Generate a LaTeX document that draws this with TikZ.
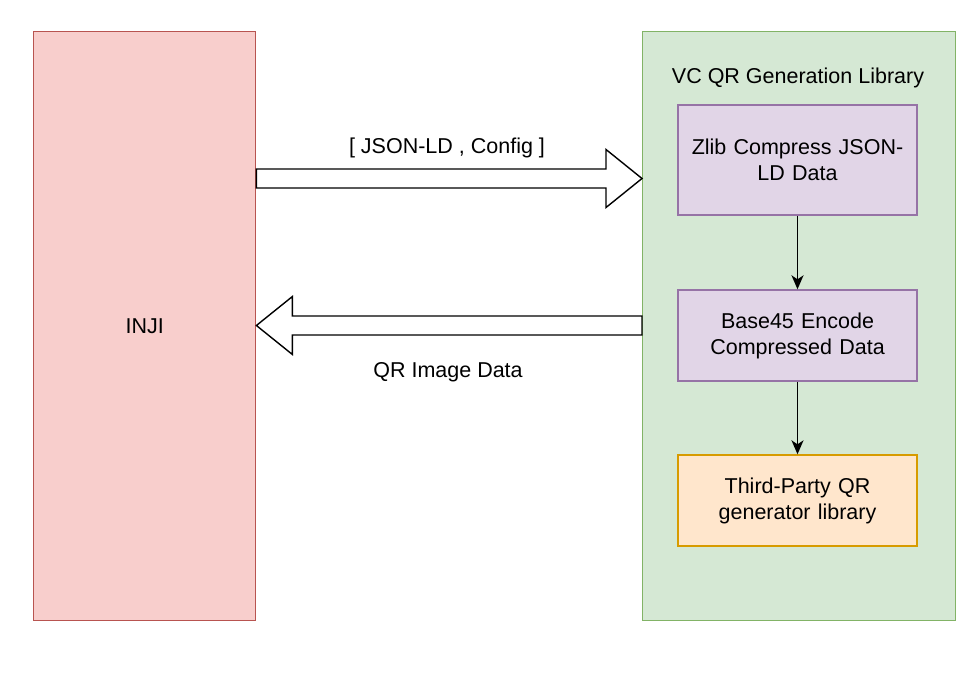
\documentclass[tikz,border=0pt]{standalone}
\usepackage{fontspec}
\setmainfont{Liberation Sans}
\usetikzlibrary{positioning, arrows.meta, calc}
\definecolor{injifill}{HTML}{F8CECC}
\definecolor{injidraw}{HTML}{B85450}
\definecolor{libfill}{HTML}{D5E8D4}
\definecolor{libdraw}{HTML}{82B366}
\definecolor{stepfill}{HTML}{E1D5E7}
\definecolor{stepdraw}{HTML}{9673A6}
\definecolor{qrfill}{HTML}{FFE6CC}
\definecolor{qrdraw}{HTML}{D79B00}

\begin{document}
\begin{tikzpicture}[x=1pt, y=-1pt, line width=1.4pt,
        every node/.style={font=\fontsize{21.5}{26}\selectfont, inner sep=0pt},
        panel/.style={draw, minimum height=589pt, anchor=north west},
        stepbox/.style={draw=stepdraw, fill=stepfill, minimum width=239pt, minimum height=91pt, text width=225pt, align=center},
        blockarrow/.style={draw=black, fill=white, line join=miter},
        flow/.style={-{Stealth[length=14pt, width=12pt, inset=4pt]}, line width=1.6pt, black}]
      \useasboundingbox (0,0) rectangle (980,680);

      \node[panel, draw=injidraw, fill=injifill, minimum width=222pt] (inji) at (33,31) {};
      \node at (inji.center) {INJI};
      \node[panel, draw=libdraw, fill=libfill, minimum width=313pt] (lib) at (642,31) {};
      \node (title) at (798,78) {VC QR Generation Library};

      \node[stepbox, minimum height=110pt] (zlib) at (797.5,160) {Zlib Compress JSON-\\LD Data};
      \node[stepbox] (base45) at (797.5,335.5) {Base45 Encode\\Compressed Data};
      \node[stepbox, draw=qrdraw, fill=qrfill] (qrlib) at (797.5,500.5) {Third-Party QR\\generator library};

      \draw[flow] (zlib) -- (base45);
      \draw[flow] (base45) -- (qrlib);

      % block arrows between the two panels
      \coordinate (reqs) at (inji.east |- 0,178.5);
      \coordinate (reqe) at (lib.west |- 0,178.5);
      \draw[blockarrow] ($(reqs)+(0,-9.5)$) -- ($(reqe)+(-36,-9.5)$) -- ($(reqe)+(-36,-29)$) -- (reqe)
        -- ($(reqe)+(-36,29)$) -- ($(reqe)+(-36,9.5)$) -- ($(reqs)+(0,9.5)$) -- cycle;
      \node (req) at (447,148) {[ JSON-LD , Config ]};

      \coordinate (ress) at (lib.west |- 0,325.5);
      \coordinate (rese) at (inji.east |- 0,325.5);
      \draw[blockarrow] ($(ress)+(0,-9.5)$) -- ($(rese)+(36,-9.5)$) -- ($(rese)+(36,-29)$) -- (rese)
        -- ($(rese)+(36,29)$) -- ($(rese)+(36,9.5)$) -- ($(ress)+(0,9.5)$) -- cycle;
      \node (res) at (448,372) {QR Image Data};
    \end{tikzpicture}
\end{document}
